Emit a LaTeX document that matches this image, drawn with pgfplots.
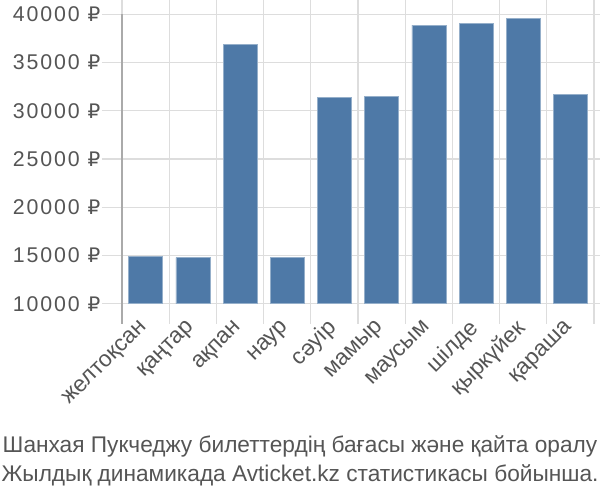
\documentclass[border=0pt]{standalone}
\usepackage{fontspec}
\setmainfont{Liberation Sans}
\newfontfamily\rubfont{DejaVu Sans}
\usepackage{pgfplots}
\pgfplotsset{compat=1.18}
\definecolor{barc}{RGB}{78,121,167}
\definecolor{gridc}{RGB}{221,221,221}
\definecolor{axc}{RGB}{170,170,170}
\definecolor{txt}{RGB}{85,85,85}
\newcommand{\rub}{{\rubfont\fontsize{15}{18}\selectfont ₽}}
\begin{document}
\begin{tikzpicture}
\path[use as bounding box] (0,0) rectangle (450pt,375pt);
\begin{axis}[
  at={(91.5pt,147.2pt)}, anchor=south west,
  scale only axis, width=354pt, height=217.1pt,
  xmin=-0.5, xmax=9.5, ymin=10000, ymax=40000,
  scaled y ticks=false,
  ytick={10000,15000,...,40000},
  yticklabels={10000 \rub,15000 \rub,20000 \rub,25000 \rub,30000 \rub,35000 \rub,40000 \rub},
  yticklabel style={font=\fontsize{16}{18}\selectfont\addfontfeatures{LetterSpace=9}, text=txt, inner sep=1pt},
  xtick={-0.5,0.5,...,9.5}, xticklabels={},
  extra x ticks={0,1,...,9},
  extra x tick labels={желтоқсан,қаңтар,ақпан,наур,сәуір,мамыр,маусым,шілде,қыркүйек,қараша},
  extra x tick style={grid=none, tick style={draw=none},
    tick label style={rotate=45, anchor=east, inner sep=1pt, font=\fontsize{17}{18}\selectfont, text=txt}},
  grid=major, grid style={gridc, line width=0.8pt},
  tick align=outside, major tick length=15pt,
  tick style={gridc, line width=0.8pt},
  axis line style={draw=none},
  clip mode=individual,
  ybar, bar width=0.72,
]
\addplot[fill=barc, draw=barc!60!white, line width=0.4pt] coordinates {
(0,14870) (1,14770) (2,36880) (3,14770) (4,31350) (5,31520) (6,38880) (7,39060) (8,39600) (9,31700)};
\draw[axc, line width=0.8pt] (axis cs:-0.5,40000) -- (axis cs:-0.5,10000) -- ([yshift=-15pt]axis cs:-0.5,10000);
\end{axis}
\node[anchor=base, text=txt, font=\fontsize{17}{18}\selectfont] at (225pt,35.25pt) {Шанхая Пукчеджу билеттердің бағасы және қайта оралу};
\node[anchor=base, text=txt, font=\fontsize{17}{18}\selectfont] at (225pt,13.5pt) {Жылдық динамикада Avticket.kz статистикасы бойынша.};
\end{tikzpicture}
\end{document}
